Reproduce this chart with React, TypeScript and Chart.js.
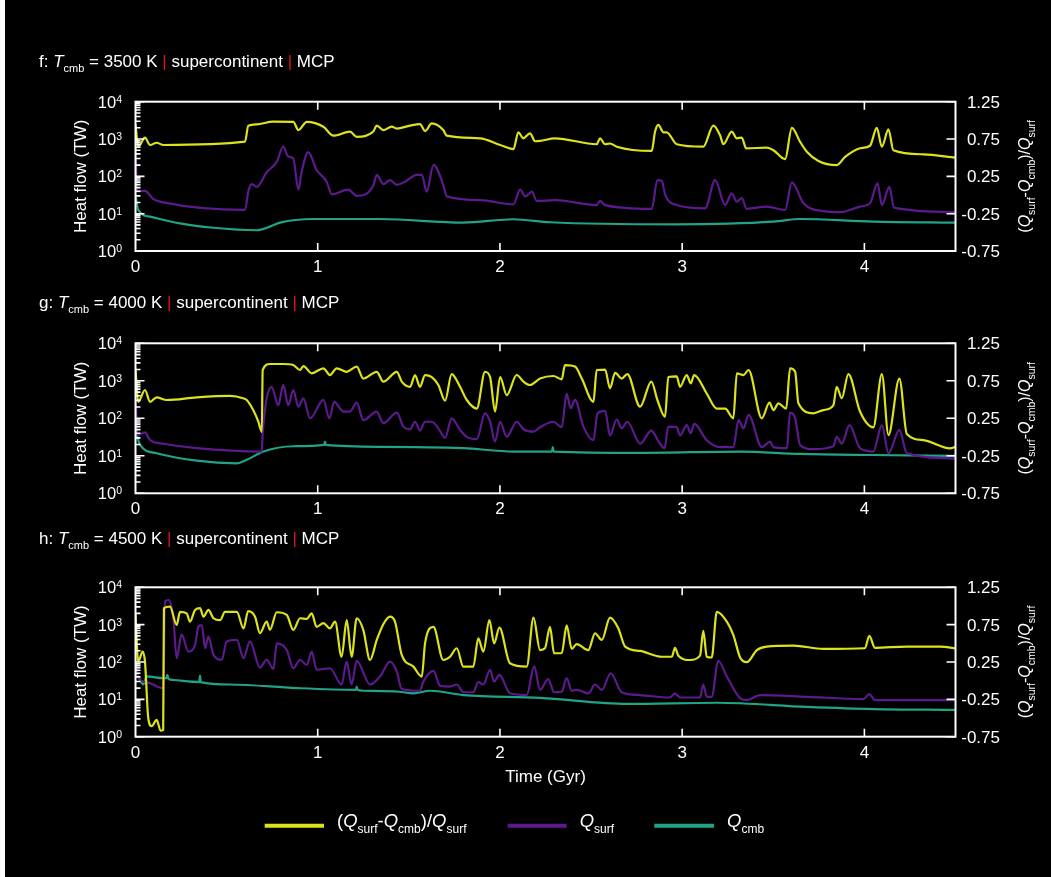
import React, { useEffect, useRef } from "react";
import { Chart, registerables } from "chart.js";

Chart.register(...registerables);

const FONT = '"Liberation Sans", Arial, Helvetica, sans-serif';
const YELLOW = "#dde31b";
const PURPLE = "#5d1a8e";
const TEAL = "#21a386";
const RED = "#e3141c";

type Pair = [number, number];

// ---- axis tick values ----
const X_TICKS = [0, 1, 2, 3, 4];
const LOG_DECADES = [0, 1, 2, 3, 4];
const RATIO_TICKS = [-0.75, -0.25, 0.25, 0.75, 1.25];

// ---- panel f : Tcmb = 3500 K ----
const F_RATIO: Pair[] = [[0,0.94],[0.015,0.647],[0.052,0.768],[0.08,0.67],[0.116,0.7],[0.153,0.67],[0.601,0.714],[0.619,0.928],[0.665,0.947],[0.756,0.982],[0.866,0.98],[0.894,0.87],[0.94,0.98],[1.031,0.915],[1.086,0.795],[1.177,0.848],[1.214,0.78],[1.305,0.85],[1.324,0.93],[1.36,0.87],[1.406,0.915],[1.434,0.89],[1.507,0.93],[1.561,0.95],[1.589,0.857],[1.626,0.96],[1.689,0.87],[1.708,0.795],[1.891,0.76],[2.001,0.67],[2.074,0.616],[2.101,0.84],[2.128,0.76],[2.165,0.827],[2.193,0.72],[2.22,0.724],[2.302,0.76],[2.531,0.68],[2.549,0.76],[2.577,0.68],[2.604,0.69],[2.641,0.647],[2.833,0.59],[2.851,0.848],[2.869,0.94],[2.897,0.84],[2.915,0.84],[2.97,0.68],[3.116,0.647],[3.171,0.93],[3.208,0.8],[3.226,0.68],[3.272,0.85],[3.3,0.76],[3.327,0.77],[3.351,0.626],[3.464,0.634],[3.501,0.6],[3.565,0.48],[3.602,0.9],[3.647,0.714],[3.684,0.58],[3.748,0.456],[3.848,0.4],[3.894,0.51],[3.976,0.626],[4.031,0.66],[4.068,0.9],[4.096,0.647],[4.132,0.88],[4.159,0.6],[4.324,0.545],[4.5,0.5]];
const F_SURF: Pair[] = [[0,562],[0.01,39],[0.052,41],[0.098,24.5],[0.153,20],[0.601,12.6],[0.619,39],[0.637,62],[0.665,52],[0.72,129],[0.775,245],[0.811,631],[0.838,339],[0.866,302],[0.894,44],[0.912,135],[0.948,447],[0.994,148],[1.049,72],[1.077,33],[1.168,44],[1.214,30],[1.305,56],[1.324,110],[1.36,62],[1.397,79],[1.434,59],[1.479,72],[1.543,110],[1.571,110],[1.598,39],[1.635,204],[1.689,59],[1.708,29],[1.891,23],[2.074,17.8],[2.111,44],[2.139,29],[2.175,39],[2.202,22],[2.302,23],[2.531,17],[2.549,22],[2.577,17],[2.833,13.5],[2.864,79],[2.888,76],[2.907,32],[2.97,17],[3.126,13.8],[3.181,79],[3.236,17],[3.272,35],[3.3,21],[3.327,26],[3.354,13.5],[3.464,15.5],[3.565,12.6],[3.602,69],[3.666,19],[3.776,11.7],[3.867,11],[3.976,15.5],[4.031,19],[4.072,65],[4.096,17],[4.137,52],[4.163,14.5],[4.5,11]];
const F_CMB: Pair[] = [[0,31.6],[0.015,12.6],[0.08,8.3],[0.244,5.5],[0.427,4.2],[0.665,3.6],[0.738,4.5],[0.793,5.75],[0.976,7.2],[1.342,7.2],[1.799,5.75],[2.074,7.1],[2.275,5.9],[2.962,5.2],[3.501,6.1],[3.647,7.2],[4.049,6.1],[4.5,5.75]];

// ---- panel g : Tcmb = 4000 K ----
const G_RATIO: Pair[] = [[0,0.9],[0.015,0.47],[0.052,0.627],[0.08,0.47],[0.116,0.53],[0.171,0.494],[0.336,0.53],[0.519,0.55],[0.591,0.517],[0.61,0.494],[0.646,0.36],[0.674,0.205],[0.693,0.07],[0.698,0.894],[0.738,0.974],[0.811,0.974],[0.866,0.96],[0.903,0.894],[0.921,0.947],[0.967,0.85],[1.031,0.917],[1.067,0.827],[1.104,0.917],[1.159,0.87],[1.214,0.94],[1.25,0.78],[1.324,0.87],[1.36,0.74],[1.434,0.87],[1.461,0.74],[1.507,0.67],[1.534,0.827],[1.561,0.67],[1.589,0.827],[1.626,0.8],[1.662,0.694],[1.699,0.485],[1.735,0.84],[1.781,0.67],[1.818,0.494],[1.873,0.38],[1.918,0.87],[1.946,0.8],[1.973,0.34],[2.001,0.8],[2.037,0.56],[2.092,0.827],[2.129,0.74],[2.165,0.694],[2.22,0.78],[2.293,0.814],[2.339,0.77],[2.357,0.96],[2.412,0.94],[2.449,0.78],[2.513,0.47],[2.531,0.894],[2.577,0.9],[2.604,0.65],[2.632,0.857],[2.668,0.78],[2.699,0.84],[2.769,0.405],[2.831,0.74],[2.864,0.494],[2.906,0.27],[2.924,0.8],[2.97,0.81],[2.988,0.67],[3.025,0.827],[3.047,0.716],[3.066,0.827],[3.135,0.58],[3.19,0.38],[3.236,0.38],[3.281,0.25],[3.3,0.85],[3.337,0.827],[3.364,0.894],[3.437,0.25],[3.479,0.458],[3.501,0.36],[3.528,0.45],[3.571,0.38],[3.592,0.917],[3.62,0.87],[3.638,0.45],[3.72,0.317],[3.775,0.36],[3.83,0.427],[3.848,0.67],[3.876,0.517],[3.912,0.84],[3.976,0.34],[4.049,0.13],[4.096,0.84],[4.132,0.027],[4.192,0.78],[4.233,0.04],[4.324,-0.04],[4.47,-0.15],[4.5,-0.13]];
const G_SURF: Pair[] = [[0,513],[0.01,35],[0.052,42],[0.08,26],[0.153,21],[0.336,16],[0.693,13],[0.698,40],[0.747,676],[0.784,224],[0.811,776],[0.838,224],[0.866,562],[0.894,204],[0.921,339],[0.958,100],[1.031,309],[1.064,100],[1.09,275],[1.141,151],[1.177,151],[1.214,263],[1.25,89],[1.324,151],[1.36,74],[1.434,141],[1.47,60],[1.507,51],[1.534,81],[1.561,47],[1.589,81],[1.626,81],[1.662,54],[1.699,30],[1.735,100],[1.781,49],[1.818,32],[1.873,28],[1.918,135],[1.946,81],[1.973,24],[2.001,81],[2.037,32],[2.092,81],[2.129,51],[2.184,44],[2.22,58],[2.293,81],[2.339,58],[2.366,447],[2.388,186],[2.412,309],[2.458,60],[2.513,26],[2.535,135],[2.577,158],[2.604,35],[2.641,93],[2.668,54],[2.699,81],[2.769,21],[2.831,47],[2.871,24],[2.903,16],[2.924,60],[2.97,58],[2.988,35],[3.025,66],[3.047,40],[3.066,71],[3.135,26],[3.208,17],[3.281,17],[3.309,89],[3.337,54],[3.364,123],[3.437,17],[3.483,24],[3.501,17],[3.575,16],[3.592,141],[3.62,100],[3.647,19.5],[3.72,15],[3.83,18],[3.848,32],[3.876,21],[3.918,66],[3.976,16],[4.049,13],[4.096,66],[4.132,11.7],[4.192,49],[4.233,11.7],[4.5,8.5]];
const G_CMB: Pair[] = [[0,51],[0.025,19.5],[0.116,11.7],[0.336,7.4],[0.556,6.3],[0.61,7.8],[0.702,13],[0.866,18],[1.035,19.5],[1.04,24],[1.045,19.5],[1.342,17.4],[1.799,16],[2.074,13],[2.285,13],[2.29,17],[2.295,13],[2.769,12],[3.318,13],[3.647,11.2],[4.049,10.5],[4.5,10]];

// ---- panel h : Tcmb = 4500 K ----
const H_RATIO: Pair[] = [[0,0.88],[0.015,0.255],[0.039,0.39],[0.052,0.255],[0.07,-0.5],[0.089,-0.61],[0.116,-0.526],[0.138,-0.67],[0.152,-0.66],[0.156,0.97],[0.189,0.99],[0.226,0.746],[0.244,0.92],[0.281,0.9],[0.299,0.79],[0.327,0.947],[0.354,0.97],[0.373,0.857],[0.4,0.947],[0.428,0.836],[0.464,0.81],[0.491,0.92],[0.556,0.92],[0.593,0.7],[0.618,0.93],[0.656,0.857],[0.683,0.635],[0.72,0.79],[0.738,0.68],[0.775,0.916],[0.83,0.88],[0.866,0.68],[0.903,0.836],[0.94,0.827],[0.967,0.9],[0.994,0.72],[1.031,0.77],[1.067,0.7],[1.095,0.79],[1.131,0.32],[1.159,0.81],[1.186,0.32],[1.214,0.836],[1.25,0.68],[1.287,0.277],[1.324,0.545],[1.36,0.756],[1.397,0.857],[1.424,0.79],[1.461,0.344],[1.525,0.188],[1.571,0.054],[1.589,0.5],[1.635,0.72],[1.689,0.277],[1.726,0.32],[1.763,0.434],[1.799,0.188],[1.854,0.188],[1.881,0.567],[1.909,0.39],[1.942,0.81],[1.968,0.5],[1.997,0.71],[2.055,0.233],[2.147,0.188],[2.184,0.845],[2.22,0.41],[2.247,0.434],[2.275,0.72],[2.297,0.367],[2.339,0.367],[2.366,0.74],[2.394,0.425],[2.421,0.49],[2.485,0.41],[2.522,0.635],[2.559,0.545],[2.604,0.845],[2.65,0.7],[2.687,0.456],[2.769,0.398],[2.888,0.32],[2.943,0.32],[2.961,0.44],[2.979,0.335],[3.043,0.277],[3.098,0.335],[3.116,0.666],[3.135,0.32],[3.162,0.31],[3.19,0.92],[3.245,0.79],[3.281,0.61],[3.318,0.31],[3.354,0.247],[3.41,0.41],[3.464,0.456],[3.61,0.47],[3.775,0.425],[4.003,0.434],[4.027,0.6],[4.058,0.44],[4.233,0.456],[4.415,0.456],[4.5,0.434]];
const H_SURF: Pair[] = [[0,537],[0.015,41],[0.043,30],[0.08,27],[0.152,20],[0.162,4170],[0.181,4570],[0.208,1480],[0.226,126],[0.253,550],[0.29,190],[0.327,288],[0.345,891],[0.364,977],[0.382,234],[0.4,479],[0.428,155],[0.474,115],[0.5,355],[0.556,389],[0.593,126],[0.628,355],[0.683,71],[0.72,115],[0.757,65],[0.775,316],[0.83,209],[0.866,68],[0.903,115],[0.94,83],[0.967,190],[0.994,62],[1.067,68],[1.131,25],[1.159,102],[1.186,25],[1.214,107],[1.287,25],[1.342,41],[1.397,102],[1.434,55],[1.461,19],[1.561,17],[1.58,30],[1.635,58],[1.672,23],[1.726,22],[1.763,25],[1.799,15.5],[1.854,15.5],[1.881,29],[1.909,25],[1.946,62],[1.968,30],[1.997,45],[2.055,14.5],[2.147,13],[2.188,76],[2.22,18],[2.265,35],[2.297,15.5],[2.339,16],[2.366,37],[2.394,17],[2.421,18],[2.485,14.5],[2.522,25],[2.559,18],[2.608,50],[2.668,15.5],[2.769,13],[2.933,11.2],[2.961,14.5],[2.988,11.2],[3.098,11.2],[3.116,25],[3.135,11.7],[3.162,11.7],[3.198,107],[3.245,41],[3.318,10.7],[3.354,9.5],[3.428,13],[3.684,11.7],[3.995,10.2],[4.027,13.8],[4.058,9.5],[4.5,9.5]];
const H_CMB: Pair[] = [[0,62],[0.043,25],[0.062,41],[0.153,37],[0.17,37],[0.175,45],[0.18,36],[0.208,33],[0.35,29],[0.354,43],[0.358,29],[0.519,25],[0.884,20],[1.21,18],[1.214,22],[1.218,18],[1.25,17],[1.448,16],[1.525,14.5],[1.617,17],[1.799,13],[2.22,11],[2.7,7.6],[3.19,8.1],[3.684,6.3],[4.049,5.5],[4.5,5.2]];

// ---- text ----
type Seg = { t: string; it?: boolean; sub?: boolean; sup?: boolean; color?: string };
const RATIO_LABEL: Seg[] = [{ t: "(" }, { t: "Q", it: true }, { t: "surf", sub: true }, { t: "-" }, { t: "Q", it: true }, { t: "cmb", sub: true }, { t: ")/" }, { t: "Q", it: true }, { t: "surf", sub: true }];
const SURF_LABEL: Seg[] = [{ t: "Q", it: true }, { t: "surf", sub: true }];
const CMB_LABEL: Seg[] = [{ t: "Q", it: true }, { t: "cmb", sub: true }];
const HEAT_LABEL: Seg[] = [{ t: "Heat flow (TW)" }];
const TIME_LABEL = "Time (Gyr)";

function drawRich(ctx: CanvasRenderingContext2D, segs: Seg[], x: number, y: number, size: number, subSize: number, align: "left" | "center" | "right", color: string, supShift = 0.42, subShift = 0.32) {
  const fontOf = (s: Seg) => `${s.it ? "italic " : ""}${s.sub || s.sup ? subSize : size}px ${FONT}`;
  let w = 0;
  for (const s of segs) { ctx.font = fontOf(s); w += ctx.measureText(s.t).width; }
  let cx = align === "center" ? x - w / 2 : align === "right" ? x - w : x;
  ctx.textAlign = "left";
  ctx.textBaseline = "alphabetic";
  for (const s of segs) {
    ctx.font = fontOf(s);
    ctx.fillStyle = s.color || color;
    const dy = s.sub ? size * subShift : s.sup ? -size * supShift : 0;
    ctx.fillText(s.t, cx, y + dy);
    cx += ctx.measureText(s.t).width;
  }
}

function drawRotated(ctx: CanvasRenderingContext2D, segs: Seg[], cx: number, cy: number, size: number, subSize: number, color: string) {
  ctx.save();
  ctx.translate(cx, cy);
  ctx.rotate(-Math.PI / 2);
  drawRich(ctx, segs, 0, size * 0.36, size, subSize, "center", color);
  ctx.restore();
}

interface PanelSpec {
  letter: string;
  temp: string;
  ratio: Pair[];
  surf: Pair[];
  cmb: Pair[];
  top: number;
  height: number;
  chartTop: number;
  chartBottom: number;
  titleBaseline: number;
  last: boolean;
}

const AREA_LEFT = 135.5;
const AREA_RIGHT = 955.5;
const CANVAS_W = 1051;

const PANELS: PanelSpec[] = [
  { letter: "f", temp: "3500", ratio: F_RATIO, surf: F_SURF, cmb: F_CMB, top: 30, height: 250, chartTop: 71.7, chartBottom: 221, titleBaseline: 36.7, last: false },
  { letter: "g", temp: "4000", ratio: G_RATIO, surf: G_SURF, cmb: G_CMB, top: 280, height: 240, chartTop: 63.3, chartBottom: 213.3, titleBaseline: 27.7, last: false },
  { letter: "h", temp: "4500", ratio: H_RATIO, surf: H_SURF, cmb: H_CMB, top: 520, height: 357, chartTop: 67.3, chartBottom: 216.7, titleBaseline: 23.7, last: true },
];

function Panel({ spec }: { spec: PanelSpec }) {
  const ref = useRef<HTMLCanvasElement | null>(null);
  useEffect(() => {
    const canvas = ref.current;
    if (!canvas) return;
    const toXY = (arr: Pair[]) => arr.map(([x, y]) => ({ x, y }));
    const decor = {
      id: "decor",
      afterDraw(chart: any) {
        const ctx: CanvasRenderingContext2D = chart.ctx;
        const a = chart.chartArea;
        const xs = chart.scales.x, ys = chart.scales.y, y2 = chart.scales.y2;
        ctx.save();
        ctx.strokeStyle = "#ffffff";
        ctx.lineWidth = 2;
        ctx.strokeRect(a.left, a.top, a.right - a.left, a.bottom - a.top);
        ctx.lineWidth = 1.6;
        ctx.beginPath();
        for (const v of X_TICKS) {
          if (v === 0) continue;
          const px = xs.getPixelForValue(v);
          ctx.moveTo(px, a.bottom); ctx.lineTo(px, a.bottom - 8);
          ctx.moveTo(px, a.top); ctx.lineTo(px, a.top + 8);
        }
        for (const d of LOG_DECADES) {
          const py = ys.getPixelForValue(Math.pow(10, d));
          ctx.moveTo(a.left, py); ctx.lineTo(a.left + 9, py);
          if (d < 4) {
            for (let m = 2; m <= 9; m++) {
              const pm = ys.getPixelForValue(m * Math.pow(10, d));
              ctx.moveTo(a.left, pm); ctx.lineTo(a.left + 5, pm);
            }
          }
        }
        for (const v of RATIO_TICKS) {
          const py = y2.getPixelForValue(v);
          ctx.moveTo(a.right, py); ctx.lineTo(a.right - 9, py);
        }
        ctx.stroke();

        // left log labels 10^k
        for (const d of LOG_DECADES) {
          const py = ys.getPixelForValue(Math.pow(10, d));
          drawRich(ctx, [{ t: "10" }, { t: String(d), sup: true }], a.left - 13.5, py + 6, 16.5, 10.5, "right", "#ffffff", 0.3);
        }
        // right ratio labels
        ctx.font = `17px ${FONT}`;
        ctx.fillStyle = "#ffffff";
        ctx.textAlign = "right";
        ctx.textBaseline = "alphabetic";
        for (const v of RATIO_TICKS) {
          const py = y2.getPixelForValue(v);
          ctx.fillText(v.toFixed(2), 1000, py + 6);
        }
        const midY = (a.top + a.bottom) / 2;
        drawRotated(ctx, HEAT_LABEL, 80, midY, 17, 11, "#ffffff");
        drawRotated(ctx, RATIO_LABEL, 1024, midY, 16, 10.5, "#ffffff");

        // panel title
        const title: Seg[] = [
          { t: spec.letter + ": " }, { t: "T", it: true }, { t: "cmb", sub: true },
          { t: " = " + spec.temp + " K " }, { t: "|", color: RED }, { t: " supercontinent " },
          { t: "|", color: RED }, { t: " MCP" },
        ];
        drawRich(ctx, title, 39, spec.titleBaseline, 17, 11, "left", "#ffffff");

        if (spec.last) {
          ctx.font = `17px ${FONT}`;
          ctx.fillStyle = "#ffffff";
          ctx.textAlign = "center";
          ctx.textBaseline = "alphabetic";
          ctx.fillText(TIME_LABEL, (a.left + a.right) / 2, 262);
          const ly = 305.7;
          const items: [string, number, number, Seg[]][] = [
            [YELLOW, 264.7, 324, RATIO_LABEL],
            [PURPLE, 507.7, 566.7, SURF_LABEL],
            [TEAL, 654.3, 714, CMB_LABEL],
          ];
          for (const [col, x1, x2, segs] of items) {
            ctx.strokeStyle = col;
            ctx.lineWidth = 4;
            ctx.beginPath();
            ctx.moveTo(x1, ly); ctx.lineTo(x2, ly);
            ctx.stroke();
            drawRich(ctx, segs, x2 + 13, ly + 1.6, 18.5, 12, "left", "#ffffff");
          }
        }
        ctx.restore();
      },
    };
    const tickFont = { family: FONT, size: 17 };
    const line = { borderWidth: 2.2, pointRadius: 0, cubicInterpolationMode: "monotone", borderJoinStyle: "round", borderCapStyle: "round" };
    const chart = new Chart(canvas, {
      type: "line",
      data: {
        datasets: [
          { label: "ratio", data: toXY(spec.ratio), yAxisID: "y2", borderColor: YELLOW, backgroundColor: YELLOW, ...line },
          { label: "Qsurf", data: toXY(spec.surf), yAxisID: "y", borderColor: PURPLE, backgroundColor: PURPLE, ...line },
          { label: "Qcmb", data: toXY(spec.cmb), yAxisID: "y", borderColor: TEAL, backgroundColor: TEAL, ...line },
        ],
      } as any,
      options: {
        animation: false,
        responsive: false,
        events: [],
        layout: { autoPadding: false, padding: { left: 0, right: 0, top: spec.chartTop, bottom: 0 } },
        plugins: { legend: { display: false }, tooltip: { enabled: false } },
        scales: {
          x: {
            type: "linear", min: 0, max: 4.5, position: "bottom",
            grid: { display: false, drawTicks: false }, border: { display: false },
            ticks: { stepSize: 1, includeBounds: false, color: "#ffffff", font: tickFont, padding: 6, maxRotation: 0, autoSkip: false,
              callback: (v: any) => (Number.isInteger(v) ? String(v) : "") },
            afterFit: (s: any) => { s.height = spec.height - spec.chartBottom; },
          },
          y: {
            type: "logarithmic", min: 1, max: 10000, position: "left",
            grid: { display: false, drawTicks: false }, border: { display: false },
            ticks: { display: false },
            afterFit: (s: any) => { s.width = AREA_LEFT; },
          },
          y2: {
            type: "linear", min: -0.75, max: 1.25, position: "right",
            grid: { display: false, drawTicks: false }, border: { display: false },
            ticks: { display: false, stepSize: 0.5 },
            afterFit: (s: any) => { s.width = CANVAS_W - AREA_RIGHT; },
          },
        },
      } as any,
      plugins: [decor],
    });
    return () => chart.destroy();
  }, [spec]);
  return (
    <canvas
      ref={ref}
      width={CANVAS_W}
      height={spec.height}
      style={{ position: "absolute", left: 0, top: spec.top, width: CANVAS_W, height: spec.height, display: "block" }}
    />
  );
}

export default function App() {
  return (
    <div style={{ position: "fixed", left: 0, top: 0, width: 1051, height: 877, background: "#ffffff", overflow: "hidden" }}>
      <div style={{ position: "absolute", left: 5, top: 0, width: 1046, height: 877, background: "#000000" }} />
      {PANELS.map((p) => (
        <Panel key={p.letter} spec={p} />
      ))}
    </div>
  );
}
